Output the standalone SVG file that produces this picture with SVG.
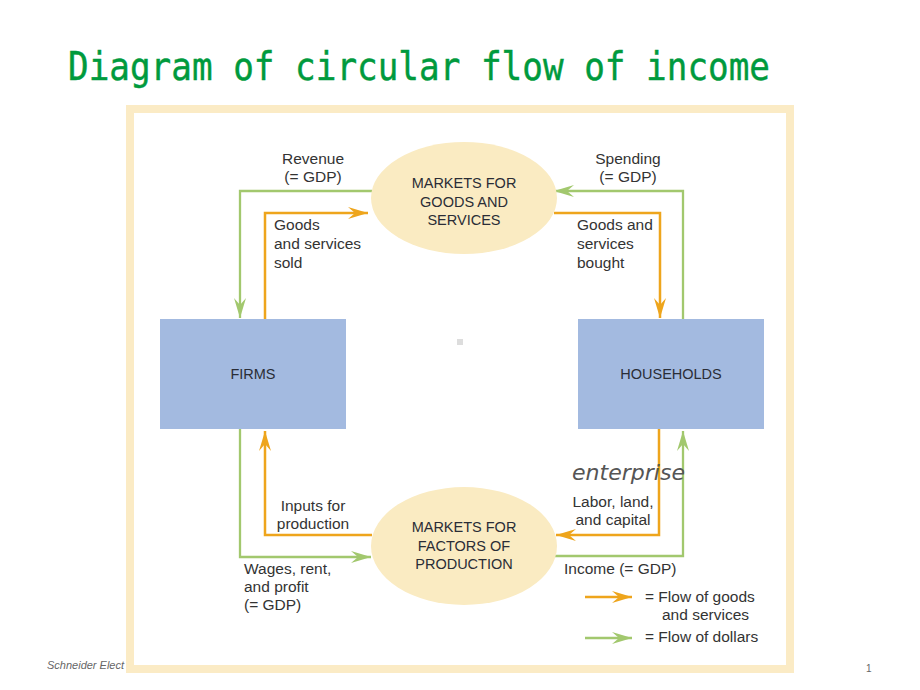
<svg xmlns="http://www.w3.org/2000/svg" width="920" height="690" viewBox="0 0 920 690">
<defs>
<style>
.lbl{font-family:"Liberation Sans",Arial,sans-serif;font-size:15.5px;fill:#333}
.mid{text-anchor:middle}
.box{fill:#A3BAE0}
.mkt{fill:#FAEBC2}
.node{font-family:"Liberation Sans",Arial,sans-serif;font-size:14.5px;fill:#2a2d36;text-anchor:middle}
.og{fill:none;stroke:#EEA51C;stroke-width:2.5}
.gr{fill:none;stroke:#A2C86E;stroke-width:2.3}
</style>
<marker id="ao" viewBox="0 0 20 12" refX="20" refY="6" markerWidth="20" markerHeight="12" markerUnits="userSpaceOnUse" orient="auto"><path d="M0,0 L20,6 L0,12 L7,6 Z" fill="#EEA51C"/></marker>
<marker id="ag" viewBox="0 0 20 12" refX="20" refY="6" markerWidth="20" markerHeight="12" markerUnits="userSpaceOnUse" orient="auto"><path d="M0,0 L20,6 L0,12 L7,6 Z" fill="#A2C86E"/></marker>
</defs>
<rect width="920" height="690" fill="#fff"/>
<text transform="translate(68,80) scale(1,1.1)" x="0" y="0" font-family="'DejaVu Sans Mono',monospace" font-size="35" fill="#009A3D" stroke="#009A3D" stroke-width="0.4" textLength="702" lengthAdjust="spacingAndGlyphs">Diagram of circular flow of income</text>
<text x="47" y="669" font-family="'Liberation Sans',Arial,sans-serif" font-size="11" font-style="italic" fill="#666">Schneider Elect</text>
<text x="866" y="672" font-family="'Liberation Sans',Arial,sans-serif" font-size="10" fill="#666">1</text>
<rect x="130" y="109" width="660" height="560" fill="#fff" stroke="#FBEBC5" stroke-width="8"/>
<rect x="457" y="339" width="6" height="6" fill="#ddd"/>
<g id="connectors">
<polyline class="gr" points="372,191 240,191 240,318" marker-end="url(#ag)"/>
<polyline class="og" points="265,319 265,213 368,213" marker-end="url(#ao)"/>
<polyline class="gr" points="683,319 683,191 554,191" marker-end="url(#ag)"/>
<polyline class="og" points="554,213 660,213 660,318" marker-end="url(#ao)"/>
<polyline class="gr" points="240,429 240,557 371,557" marker-end="url(#ag)"/>
<polyline class="og" points="372,535 265,535 265,431" marker-end="url(#ao)"/>
<polyline class="og" points="659,429 659,535 556,535" marker-end="url(#ao)"/>
<polyline class="gr" points="555,556 683,556 683,431" marker-end="url(#ag)"/>
<line class="og" x1="585" y1="597" x2="632" y2="597" marker-end="url(#ao)"/>
<line class="gr" x1="585" y1="638" x2="632" y2="638" marker-end="url(#ag)"/>
</g>
<g id="goods-market">
<ellipse class="mkt" cx="464" cy="198" rx="93" ry="56"/>
<text class="node" x="464" y="188">MARKETS FOR</text>
<text class="node" x="464" y="207">GOODS AND</text>
<text class="node" x="464" y="225">SERVICES</text>
</g>
<g id="factor-market">
<ellipse class="mkt" cx="464" cy="546" rx="93" ry="59"/>
<text class="node" x="464" y="532">MARKETS FOR</text>
<text class="node" x="464" y="551">FACTORS OF</text>
<text class="node" x="464" y="569">PRODUCTION</text>
</g>
<g id="firms">
<rect class="box" x="160" y="319" width="186" height="110"/>
<text class="node" x="253" y="379">FIRMS</text>
</g>
<g id="households">
<rect class="box" x="578" y="319" width="186" height="110"/>
<text class="node" x="671" y="379">HOUSEHOLDS</text>
</g>
<g id="labels">
<text class="lbl mid" x="313" y="164">Revenue</text>
<text class="lbl mid" x="313" y="182">(= GDP)</text>
<text class="lbl" x="274" y="230">Goods</text>
<text class="lbl" x="274" y="249">and services</text>
<text class="lbl" x="274" y="268">sold</text>
<text class="lbl mid" x="628" y="164">Spending</text>
<text class="lbl mid" x="628" y="182">(= GDP)</text>
<text class="lbl" x="577" y="230">Goods and</text>
<text class="lbl" x="577" y="249">services</text>
<text class="lbl" x="577" y="268">bought</text>
<text class="lbl mid" x="313" y="511">Inputs for</text>
<text class="lbl mid" x="313" y="529">production</text>
<text class="lbl" x="244" y="574">Wages, rent,</text>
<text class="lbl" x="244" y="592">and profit</text>
<text class="lbl" x="244" y="610">(= GDP)</text>
<text x="572" y="480" font-family="'DejaVu Sans',sans-serif" font-size="21" font-weight="200" font-style="italic" fill="#555" textLength="113" lengthAdjust="spacingAndGlyphs">enterprise</text>
<text class="lbl mid" x="613" y="507">Labor, land,</text>
<text class="lbl mid" x="613" y="525">and capital</text>
<text class="lbl" x="564" y="574">Income (= GDP)</text>
<text class="lbl" x="645" y="602">= Flow of goods</text>
<text class="lbl" x="662" y="620">and services</text>
<text class="lbl" x="645" y="642">= Flow of dollars</text>
</g>
</svg>
